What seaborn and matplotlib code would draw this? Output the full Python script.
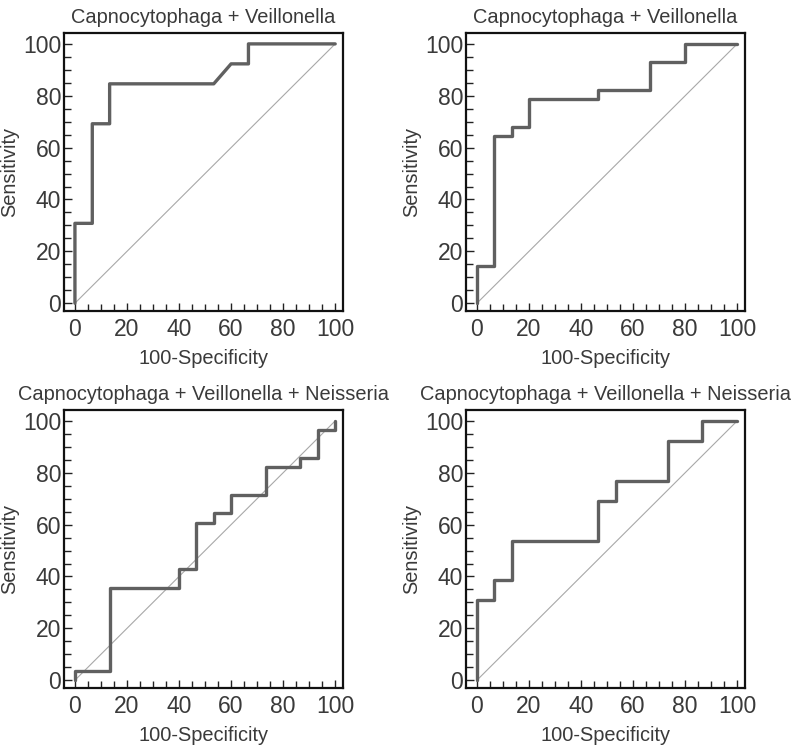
import numpy as np
import pandas as pd
import matplotlib
matplotlib.use("Agg")
import matplotlib.pyplot as plt
import seaborn as sns
from matplotlib.ticker import MultipleLocator

sns.set_theme(style="ticks")
plt.rcParams['font.family'] = ['Liberation Sans', 'DejaVu Sans']

# ROC curve vertices (100-Specificity, Sensitivity), in %
fpr_a = [0, 0, 6.67, 6.67, 13.33, 13.33, 53.33, 60, 66.67, 66.67, 100]
tpr_a = [0, 30.8, 30.8, 69.2, 69.2, 84.6, 84.6, 92.3, 92.3, 100, 100]

fpr_b = [0, 0, 6.67, 6.67, 13.33, 13.33, 20, 20, 46.67, 46.67, 66.67, 66.67, 80, 80, 100]
tpr_b = [0, 14.3, 14.3, 64.3, 64.3, 67.9, 67.9, 78.6, 78.6, 82.1, 82.1, 92.9, 92.9, 100, 100]

fpr_c = [0, 0, 13.33, 13.33, 40, 40, 46.67, 46.67, 53.33, 53.33, 60, 60, 73.33, 73.33,
         86.67, 86.67, 93.33, 93.33, 100, 100]
tpr_c = [0, 3.6, 3.6, 35.7, 35.7, 42.9, 42.9, 60.7, 60.7, 64.3, 64.3, 71.4, 71.4, 82.1,
         82.1, 85.7, 85.7, 96.4, 96.4, 100]

fpr_d = [0, 0, 6.67, 6.67, 13.33, 13.33, 46.67, 46.67, 53.33, 53.33, 73.33, 73.33, 86.67, 86.67, 100]
tpr_d = [0, 30.8, 30.8, 38.5, 38.5, 53.8, 53.8, 69.2, 69.2, 76.9, 76.9, 92.3, 92.3, 100, 100]

titles = ["Capnocytophaga + Veillonella", "Capnocytophaga + Veillonella",
          "Capnocytophaga + Veillonella + Neisseria", "Capnocytophaga + Veillonella + Neisseria"]
curves = [(fpr_a, tpr_a), (fpr_b, tpr_b), (fpr_c, tpr_c), (fpr_d, tpr_d)]
ref_line = [0, 100]

fig = plt.figure(figsize=(7.94, 7.52), dpi=100)
positions = [
    [64 / 794, 1 - 311 / 752, 279 / 794, 278 / 752],
    [466 / 794, 1 - 311 / 752, 279 / 794, 278 / 752],
    [64 / 794, 1 - 688 / 752, 279 / 794, 278 / 752],
    [466 / 794, 1 - 688 / 752, 279 / 794, 278 / 752],
]
text_col = '#3a3a3a'

for pos, title, (fx, ty) in zip(positions, titles, curves):
    ax = fig.add_axes(pos)
    # chance diagonal
    sns.lineplot(x=ref_line, y=ref_line, ax=ax, color='#a8a8a8', lw=0.8)
    df = pd.DataFrame({'fpr': fx, 'tpr': ty})
    sns.lineplot(data=df, x='fpr', y='tpr', sort=False, estimator=None, ax=ax,
                 color='#606060', lw=2.4)
    ax.set_xlim(-4.2, 103)
    ax.set_ylim(-3, 104.2)
    ax.xaxis.set_major_locator(MultipleLocator(20))
    ax.yaxis.set_major_locator(MultipleLocator(20))
    ax.xaxis.set_minor_locator(MultipleLocator(5))
    ax.yaxis.set_minor_locator(MultipleLocator(5))
    ax.tick_params(which='both', direction='in', top=False, right=False,
                   labelsize=16.5, labelcolor=text_col, color='#222222', width=1)
    ax.tick_params(which='major', length=6)
    ax.tick_params(which='minor', length=5)
    ax.tick_params(axis='y', which='major', pad=2)
    ax.tick_params(axis='x', which='major', pad=5)
    for s in ax.spines.values():
        s.set_visible(True)
        s.set_linewidth(1.6)
        s.set_color('#111111')
    ax.set_title(title, fontsize=14.4, color=text_col, pad=7)
    ax.set_xlabel('100-Specificity', fontsize=14.4, color=text_col, labelpad=6)
    ax.set_ylabel('Sensitivity', fontsize=14.4, color=text_col, labelpad=3)

fig.savefig('out.png', dpi=100)
